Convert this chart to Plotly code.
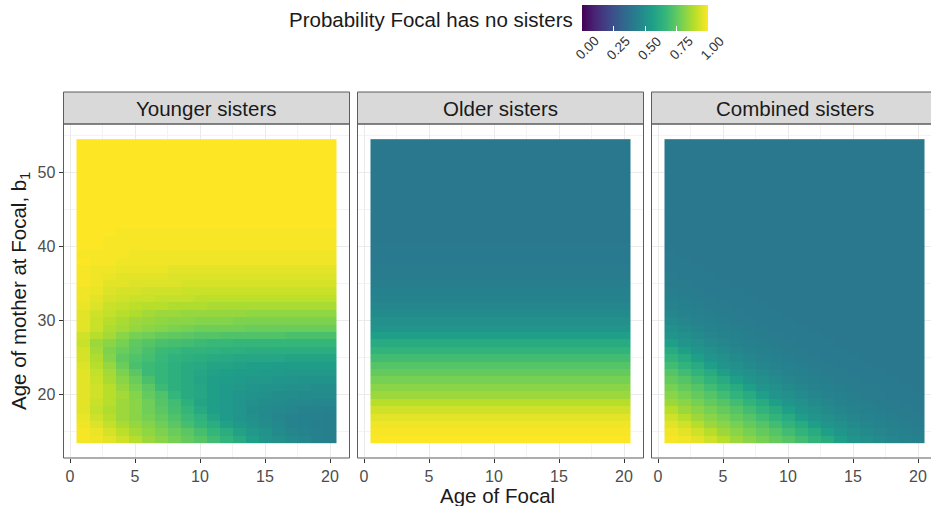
import plotly.graph_objects as go

# ---------------- data (in percent) ----------------
focal_ages = list(range(1, 21))          # Age of Focal
mother_ages = list(range(14, 55))        # Age of mother at Focal, b1
panel_titles = ["Younger sisters", "Older sisters", "Combined sisters"]
colorbar_ticks = [0.0, 0.25, 0.5, 0.75, 1.0]
colorbar_labels = ["0.00", "0.25", "0.50", "0.75", "1.00"]
x_ticks = [0, 5, 10, 15, 20]
y_ticks = [20, 30, 40, 50]

# Probability Focal has no younger sisters, rows = mother age 14..54, cols = focal age 1..20
younger_pct = [
    [99, 98, 96, 93, 89, 85, 82, 79, 76, 73, 69, 65, 61, 56, 52, 50, 48, 46, 44, 43],
    [99, 97, 94, 90, 86, 83, 80, 77, 74, 70, 66, 62, 57, 53, 51, 48, 46, 45, 44, 43],
    [98, 95, 91, 87, 84, 81, 78, 74, 70, 66, 62, 57, 53, 51, 49, 47, 45, 44, 43, 43],
    [97, 93, 89, 85, 82, 79, 76, 72, 68, 64, 58, 54, 52, 50, 48, 46, 45, 44, 44, 43],
    [96, 91, 88, 85, 82, 78, 74, 70, 66, 60, 56, 54, 52, 49, 48, 47, 46, 45, 45, 44],
    [96, 92, 89, 85, 82, 78, 73, 69, 63, 58, 56, 54, 52, 50, 49, 48, 47, 47, 46, 46],
    [96, 93, 89, 86, 81, 76, 72, 66, 61, 59, 56, 54, 52, 51, 50, 49, 49, 48, 48, 48],
    [96, 93, 89, 84, 79, 74, 68, 63, 61, 59, 56, 54, 53, 52, 51, 51, 50, 50, 49, 49],
    [96, 92, 87, 82, 77, 71, 66, 63, 61, 58, 56, 55, 54, 53, 53, 52, 52, 51, 51, 51],
    [96, 91, 86, 80, 74, 68, 66, 63, 61, 59, 57, 56, 55, 55, 54, 54, 53, 53, 53, 53],
    [95, 89, 84, 77, 71, 68, 66, 63, 61, 60, 58, 58, 57, 56, 56, 55, 55, 55, 55, 55],
    [94, 88, 81, 75, 72, 70, 67, 64, 63, 62, 61, 60, 59, 59, 59, 59, 58, 58, 58, 58],
    [94, 86, 80, 77, 74, 71, 68, 67, 65, 65, 64, 63, 63, 62, 62, 62, 62, 62, 62, 62],
    [92, 85, 82, 79, 75, 73, 71, 70, 69, 68, 67, 67, 66, 66, 66, 66, 66, 66, 66, 66],
    [93, 89, 86, 82, 79, 78, 76, 75, 74, 73, 73, 72, 72, 72, 72, 72, 71, 71, 71, 71],
    [96, 92, 88, 86, 84, 82, 81, 80, 79, 78, 78, 78, 78, 77, 77, 77, 77, 77, 77, 77],
    [96, 92, 89, 87, 85, 84, 83, 82, 82, 81, 81, 81, 80, 80, 80, 80, 80, 80, 80, 80],
    [96, 93, 91, 89, 88, 86, 85, 85, 84, 84, 84, 84, 84, 83, 83, 83, 83, 83, 83, 83],
    [97, 95, 92, 91, 90, 89, 89, 88, 88, 88, 87, 87, 87, 87, 87, 87, 87, 87, 87, 87],
    [98, 96, 94, 93, 92, 92, 91, 91, 91, 90, 90, 90, 90, 90, 90, 90, 90, 90, 90, 90],
    [98, 97, 95, 94, 94, 93, 93, 93, 92, 92, 92, 92, 92, 92, 92, 92, 92, 92, 92, 92],
    [99, 98, 96, 96, 95, 95, 95, 95, 94, 94, 94, 94, 94, 94, 94, 94, 94, 94, 94, 94],
    [99, 98, 97, 96, 96, 96, 96, 95, 95, 95, 95, 95, 95, 95, 95, 95, 95, 95, 95, 95],
    [99, 98, 98, 97, 97, 97, 97, 96, 96, 96, 96, 96, 96, 96, 96, 96, 96, 96, 96, 96],
    [100, 99, 99, 98, 98, 98, 98, 98, 98, 98, 98, 98, 98, 98, 98, 98, 98, 98, 98, 98],
    [99, 99, 99, 99, 98, 98, 98, 98, 98, 98, 98, 98, 98, 98, 98, 98, 98, 98, 98, 98],
    [100, 100, 99, 99, 99, 99, 99, 99, 99, 99, 99, 99, 99, 99, 99, 99, 99, 99, 99, 99],
    [100, 100, 99, 99, 99, 99, 99, 99, 99, 99, 99, 99, 99, 99, 99, 99, 99, 99, 99, 99],
    [100, 100, 100, 99, 99, 99, 99, 99, 99, 99, 99, 99, 99, 99, 99, 99, 99, 99, 99, 99],
    [100, 100, 100, 100, 100, 100, 100, 100, 100, 100, 100, 100, 100, 100, 100, 100, 100, 100, 100, 100],
    [100, 100, 100, 100, 100, 100, 100, 100, 100, 100, 100, 100, 100, 100, 100, 100, 100, 100, 100, 100],
    [100, 100, 100, 100, 100, 100, 100, 100, 100, 100, 100, 100, 100, 100, 100, 100, 100, 100, 100, 100],
    [100, 100, 100, 100, 100, 100, 100, 100, 100, 100, 100, 100, 100, 100, 100, 100, 100, 100, 100, 100],
    [100, 100, 100, 100, 100, 100, 100, 100, 100, 100, 100, 100, 100, 100, 100, 100, 100, 100, 100, 100],
    [100, 100, 100, 100, 100, 100, 100, 100, 100, 100, 100, 100, 100, 100, 100, 100, 100, 100, 100, 100],
    [100, 100, 100, 100, 100, 100, 100, 100, 100, 100, 100, 100, 100, 100, 100, 100, 100, 100, 100, 100],
    [100, 100, 100, 100, 100, 100, 100, 100, 100, 100, 100, 100, 100, 100, 100, 100, 100, 100, 100, 100],
    [100, 100, 100, 100, 100, 100, 100, 100, 100, 100, 100, 100, 100, 100, 100, 100, 100, 100, 100, 100],
    [100, 100, 100, 100, 100, 100, 100, 100, 100, 100, 100, 100, 100, 100, 100, 100, 100, 100, 100, 100],
    [100, 100, 100, 100, 100, 100, 100, 100, 100, 100, 100, 100, 100, 100, 100, 100, 100, 100, 100, 100],
    [100, 100, 100, 100, 100, 100, 100, 100, 100, 100, 100, 100, 100, 100, 100, 100, 100, 100, 100, 100],
]

# Probability Focal has no older sisters, by mother age 14..54 (same for every focal age)
older_pct = [100, 99, 98, 96, 93, 89, 85, 82, 79, 76, 73, 69, 65, 61, 56, 52, 50, 48, 46, 45,
             44, 43, 42, 42, 41, 41, 41, 40, 40, 40, 40, 40, 40, 40, 40, 40, 40, 40, 40, 40, 40]

# Probability Focal has no sisters at all
combined_pct = [
    [99, 98, 96, 93, 89, 85, 82, 79, 76, 73, 69, 65, 61, 56, 52, 50, 48, 46, 45, 44],
    [98, 96, 93, 89, 85, 82, 79, 76, 73, 69, 65, 61, 56, 52, 50, 48, 46, 45, 44, 43],
    [96, 93, 89, 85, 82, 79, 76, 73, 69, 65, 61, 56, 52, 50, 48, 46, 45, 44, 43, 42],
    [93, 89, 85, 82, 79, 76, 73, 69, 65, 61, 56, 52, 50, 48, 46, 45, 44, 43, 42, 42],
    [89, 85, 82, 79, 76, 73, 69, 65, 61, 56, 52, 50, 48, 46, 45, 44, 43, 42, 42, 41],
    [85, 82, 79, 76, 73, 69, 65, 61, 56, 52, 50, 48, 46, 45, 44, 43, 42, 42, 41, 41],
    [82, 79, 76, 73, 69, 65, 61, 56, 52, 50, 48, 46, 45, 44, 43, 42, 42, 41, 41, 41],
    [79, 76, 73, 69, 65, 61, 56, 52, 50, 48, 46, 45, 44, 43, 42, 42, 41, 41, 41, 40],
    [76, 73, 69, 65, 61, 56, 52, 50, 48, 46, 45, 44, 43, 42, 42, 41, 41, 41, 40, 40],
    [73, 69, 65, 61, 56, 52, 50, 48, 46, 45, 44, 43, 42, 42, 41, 41, 41, 40, 40, 40],
    [69, 65, 61, 56, 52, 50, 48, 46, 45, 44, 43, 42, 42, 41, 41, 41, 40, 40, 40, 40],
    [65, 61, 56, 52, 50, 48, 46, 45, 44, 43, 42, 42, 41, 41, 41, 40, 40, 40, 40, 40],
    [61, 56, 52, 50, 48, 46, 45, 44, 43, 42, 42, 41, 41, 41, 40, 40, 40, 40, 40, 40],
    [56, 52, 50, 48, 46, 45, 44, 43, 42, 42, 41, 41, 41, 40, 40, 40, 40, 40, 40, 40],
    [52, 50, 48, 46, 45, 44, 43, 42, 42, 41, 41, 41, 40, 40, 40, 40, 40, 40, 40, 40],
    [50, 48, 46, 45, 44, 43, 42, 42, 41, 41, 41, 40, 40, 40, 40, 40, 40, 40, 40, 40],
    [48, 46, 45, 44, 43, 42, 42, 41, 41, 41, 40, 40, 40, 40, 40, 40, 40, 40, 40, 40],
    [46, 45, 44, 43, 42, 42, 41, 41, 41, 40, 40, 40, 40, 40, 40, 40, 40, 40, 40, 40],
    [45, 44, 43, 42, 42, 41, 41, 41, 40, 40, 40, 40, 40, 40, 40, 40, 40, 40, 40, 40],
    [44, 43, 42, 42, 41, 41, 41, 40, 40, 40, 40, 40, 40, 40, 40, 40, 40, 40, 40, 40],
    [43, 42, 42, 41, 41, 41, 40, 40, 40, 40, 40, 40, 40, 40, 40, 40, 40, 40, 40, 40],
    [42, 42, 41, 41, 41, 40, 40, 40, 40, 40, 40, 40, 40, 40, 40, 40, 40, 40, 40, 40],
    [42, 41, 41, 41, 40, 40, 40, 40, 40, 40, 40, 40, 40, 40, 40, 40, 40, 40, 40, 40],
    [41, 41, 41, 40, 40, 40, 40, 40, 40, 40, 40, 40, 40, 40, 40, 40, 40, 40, 40, 40],
    [41, 41, 40, 40, 40, 40, 40, 40, 40, 40, 40, 40, 40, 40, 40, 40, 40, 40, 40, 40],
    [41, 40, 40, 40, 40, 40, 40, 40, 40, 40, 40, 40, 40, 40, 40, 40, 40, 40, 40, 40],
    [40, 40, 40, 40, 40, 40, 40, 40, 40, 40, 40, 40, 40, 40, 40, 40, 40, 40, 40, 40],
    [40, 40, 40, 40, 40, 40, 40, 40, 40, 40, 40, 40, 40, 40, 40, 40, 40, 40, 40, 40],
    [40, 40, 40, 40, 40, 40, 40, 40, 40, 40, 40, 40, 40, 40, 40, 40, 40, 40, 40, 40],
    [40, 40, 40, 40, 40, 40, 40, 40, 40, 40, 40, 40, 40, 40, 40, 40, 40, 40, 40, 40],
    [40, 40, 40, 40, 40, 40, 40, 40, 40, 40, 40, 40, 40, 40, 40, 40, 40, 40, 40, 40],
    [40, 40, 40, 40, 40, 40, 40, 40, 40, 40, 40, 40, 40, 40, 40, 40, 40, 40, 40, 40],
    [40, 40, 40, 40, 40, 40, 40, 40, 40, 40, 40, 40, 40, 40, 40, 40, 40, 40, 40, 40],
    [40, 40, 40, 40, 40, 40, 40, 40, 40, 40, 40, 40, 40, 40, 40, 40, 40, 40, 40, 40],
    [40, 40, 40, 40, 40, 40, 40, 40, 40, 40, 40, 40, 40, 40, 40, 40, 40, 40, 40, 40],
    [40, 40, 40, 40, 40, 40, 40, 40, 40, 40, 40, 40, 40, 40, 40, 40, 40, 40, 40, 40],
    [40, 40, 40, 40, 40, 40, 40, 40, 40, 40, 40, 40, 40, 40, 40, 40, 40, 40, 40, 40],
    [40, 40, 40, 40, 40, 40, 40, 40, 40, 40, 40, 40, 40, 40, 40, 40, 40, 40, 40, 40],
    [40, 40, 40, 40, 40, 40, 40, 40, 40, 40, 40, 40, 40, 40, 40, 40, 40, 40, 40, 40],
    [40, 40, 40, 40, 40, 40, 40, 40, 40, 40, 40, 40, 40, 40, 40, 40, 40, 40, 40, 40],
    [40, 40, 40, 40, 40, 40, 40, 40, 40, 40, 40, 40, 40, 40, 40, 40, 40, 40, 40, 40],
]

# ---------------- build figure ----------------
W, H = 931, 506
FONT = "Liberation Sans, Arial, Helvetica, sans-serif"
TITLE_SIZE = 20.5
TICK_SIZE = 16

def fx(px):
    return px / W

def fy(py):
    return 1 - py / H

panel_px = [(63.5, 349.5), (357.5, 643.5), (651.5, 931.0)]
PANEL_TOP, PANEL_BOT = 124, 458
STRIP_TOP = 92
UNIT = 13.0  # px per focal-age unit
CB_X0, CB_X1 = 582.5, 708.0   # colour bar extent in pixels

z_younger = [[v / 100 for v in row] for row in younger_pct]
z_older = [[v / 100 for _ in focal_ages] for v in older_pct]
z_combined = [[v / 100 for v in row] for row in combined_pct]
panels_z = [z_younger, z_older, z_combined]

fig = go.Figure()
for i, z in enumerate(panels_z):
    sfx = "" if i == 0 else str(i + 1)
    fig.add_trace(go.Heatmap(
        x=focal_ages, y=mother_ages, z=z,
        coloraxis="coloraxis",
        xaxis="x" + sfx, yaxis="y" + sfx,
        hovertemplate="Age of Focal %{x}<br>Mother age %{y}<br>%{z:.2f}<extra></extra>",
    ))

layout_axes = {}
for i, (x0, x1) in enumerate(panel_px):
    sfx = "" if i == 0 else str(i + 1)
    width_units = (x1 - x0) / UNIT
    layout_axes["xaxis" + sfx] = dict(
        domain=[fx(x0), fx(x1)],
        range=[-0.5, -0.5 + width_units],
        anchor="y" + sfx,
        automargin=False,
        tickvals=x_ticks,
        ticks="outside", ticklen=4, tickcolor="#333333", tickwidth=1,
        tickfont=dict(size=TICK_SIZE, color="#4d4d4d", family=FONT),
        showgrid=True, gridcolor="#ebebeb", gridwidth=1.1,
        minor=dict(dtick=2.5, tick0=0, showgrid=True, gridcolor="#f3f3f3", gridwidth=0.6),
        zeroline=False, showline=False,
    )
    layout_axes["yaxis" + sfx] = dict(
        domain=[fy(PANEL_BOT), fy(PANEL_TOP)],
        range=[11.45, 56.55],
        anchor="x" + sfx,
        automargin=False,
        tickvals=y_ticks,
        showticklabels=(i == 0),
        ticks="outside" if i == 0 else "", ticklen=4, tickcolor="#333333", tickwidth=1,
        tickfont=dict(size=TICK_SIZE, color="#4d4d4d", family=FONT),
        showgrid=True, gridcolor="#ebebeb", gridwidth=1.1,
        minor=dict(dtick=5, tick0=0, showgrid=True, gridcolor="#f3f3f3", gridwidth=0.6),
        zeroline=False, showline=False,
    )

shapes = []
annotations = []
BORDER = "#5c5c5c"
for i, (x0, x1) in enumerate(panel_px):
    # strip
    shapes.append(dict(type="rect", xref="paper", yref="paper",
                       x0=fx(x0), x1=fx(x1) + (0.02 if i == 2 else 0),
                       y0=fy(PANEL_TOP), y1=fy(STRIP_TOP),
                       fillcolor="#d9d9d9", line=dict(color=BORDER, width=1), layer="above"))
    annotations.append(dict(text=panel_titles[i], xref="paper", yref="paper",
                            x=fx(x0 + 143), y=fy((STRIP_TOP + PANEL_TOP) / 2),
                            showarrow=False, xanchor="center", yanchor="middle",
                            font=dict(size=TITLE_SIZE, color="#1a1a1a", family=FONT)))
    # panel border
    if i < 2:
        shapes.append(dict(type="rect", xref="paper", yref="paper",
                           x0=fx(x0), x1=fx(x1), y0=fy(PANEL_BOT), y1=fy(PANEL_TOP),
                           line=dict(color=BORDER, width=1), fillcolor="rgba(0,0,0,0)",
                           layer="above"))
    else:
        for (ax, ay, bx, by) in [(x0, PANEL_TOP, x0, PANEL_BOT),
                                 (x0, PANEL_TOP, x1 + 10, PANEL_TOP),
                                 (x0, PANEL_BOT, x1 + 10, PANEL_BOT)]:
            shapes.append(dict(type="line", xref="paper", yref="paper",
                               x0=fx(ax), y0=fy(ay), x1=fx(bx), y1=fy(by),
                               line=dict(color=BORDER, width=1), layer="above"))

# axis titles
annotations.append(dict(text="Age of Focal", xref="paper", yref="paper",
                        x=fx(497), y=fy(495), showarrow=False,
                        xanchor="center", yanchor="middle",
                        font=dict(size=TITLE_SIZE, color="#1a1a1a", family=FONT)))
annotations.append(dict(text="Age of mother at Focal, b<sub>1</sub>", xref="paper", yref="paper",
                        x=fx(20), y=fy((PANEL_TOP + PANEL_BOT) / 2), showarrow=False,
                        textangle=-90, xanchor="center", yanchor="middle",
                        font=dict(size=TITLE_SIZE, color="#1a1a1a", family=FONT)))
# legend title
annotations.append(dict(text="Probability Focal has no sisters", xref="paper", yref="paper",
                        x=fx(575), y=fy(20), showarrow=False,
                        xanchor="right", yanchor="middle",
                        font=dict(size=TITLE_SIZE, color="#1a1a1a", family=FONT)))
# colour bar tick labels, rotated 45 degrees below the bar
for t, lab in zip(colorbar_ticks, colorbar_labels):
    annotations.append(dict(text=lab, xref="paper", yref="paper",
                            x=fx(CB_X0 + (CB_X1 - CB_X0) * t + 4), y=fy(48),
                            showarrow=False, textangle=-45,
                            xanchor="center", yanchor="middle",
                            font=dict(size=13.5, color="#333333", family=FONT)))

fig.update_layout(
    width=W, height=H,
    margin=dict(l=0, r=0, t=0, b=0, autoexpand=False),
    paper_bgcolor="white", plot_bgcolor="white",
    font=dict(family=FONT),
    coloraxis=dict(
        colorscale="Viridis", cmin=0, cmax=1,
        colorbar=dict(
            orientation="h",
            xref="container", yref="container",
            x=fx((CB_X0 + CB_X1) / 2), xanchor="center",
            y=fy(5), yanchor="top",
            len=CB_X1 - CB_X0, lenmode="pixels",
            thickness=26, thicknessmode="pixels",
            xpad=0, ypad=0, outlinewidth=0,
            tickvals=colorbar_ticks, showticklabels=False,
            ticks="inside", ticklen=5, tickcolor="white", tickwidth=1,
        ),
    ),
    shapes=shapes,
    annotations=annotations,
    showlegend=False,
    **layout_axes,
)

# remove the default 8px page margin so the figure sits at the window origin
fig.write_html(
    "out.html",
    config={"displayModeBar": False},
    post_script="document.body.style.margin='0';document.body.style.padding='0';",
)
